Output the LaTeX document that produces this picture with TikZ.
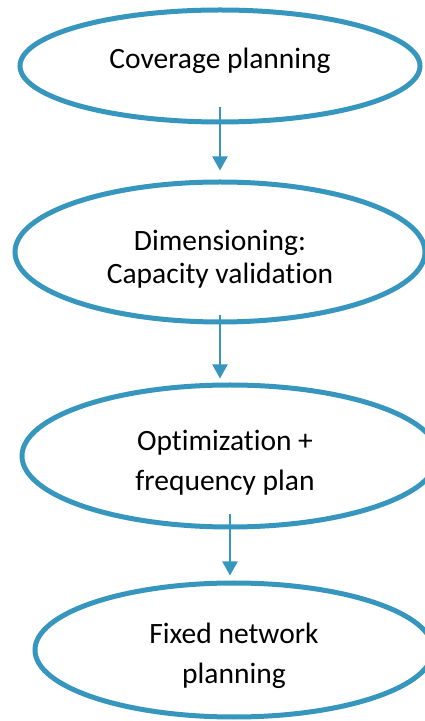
\documentclass[tikz,border=0pt]{standalone}
\usepackage{fontspec}
\setmainfont{Carlito}[RawFeature=-liga]
\usetikzlibrary{shapes.geometric,arrows.meta,calc}
\definecolor{flowblue}{RGB}{55,150,190}
\begin{document}
\begin{tikzpicture}[x=1pt,y=1pt,
  stage/.style={ellipse,draw=flowblue,line width=5pt,inner sep=0pt},
  stagetext/.style={align=center,inner sep=0pt,font=\fontsize{29.5}{35}\selectfont},
  flowarrow/.style={draw=flowblue,line width=2pt,
    -{Triangle[width=15pt,length=14pt]}}]
\useasboundingbox (0,0) rectangle (425,721);
\clip (0,0) rectangle (425,721);
\node[stage,minimum width=400pt,minimum height=112pt] (e1) at (220,655) {};
\node[stage,minimum width=410pt,minimum height=140pt] (e2) at (220,469) {};
\node[stage,minimum width=416pt,minimum height=142pt] (e3) at (230,265) {};
\node[stage,minimum width=398pt,minimum height=134pt] (e4) at (234,71) {};
\node[stagetext] (t1) at ($(e1.center)+(0,5)$) {Coverage planning};
\node[stagetext,font=\fontsize{29.5}{33}\selectfont] (t2) at ($(e2.center)+(0,-7)$) {Dimensioning:\\Capacity validation};
\node[stagetext,font=\fontsize{29.5}{40}\selectfont] (t3) at ($(e3.center)+(-5,-7)$) {Optimization +\\frequency plan};
\node[stagetext,font=\fontsize{29.5}{40}\selectfont] (t4) at ($(e4.center)+(0,-6)$) {Fixed network\\planning};
\draw[flowarrow] ($(e1.south)+(0,17)$) -- ($(e2.north)+(0,9)$);
\draw[flowarrow] ($(e2.south)+(0,9)$) -- ($(e2.south |- e3.north)+(0,4)$);
\draw[flowarrow] ($(e3.south)+(0,15)$) -- ($(e3.south |- e4.north)+(0,5)$);
\end{tikzpicture}
\end{document}
